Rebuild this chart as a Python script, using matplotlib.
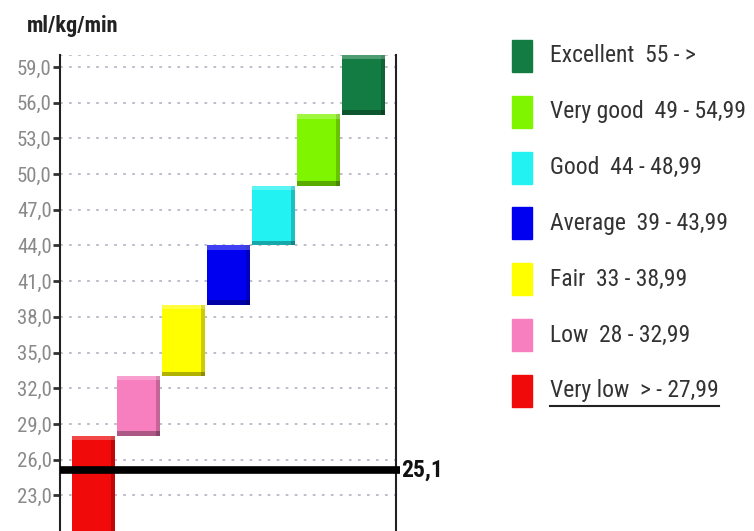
import matplotlib
matplotlib.use("Agg")
import matplotlib.pyplot as plt
import numpy as np

categories = ["Very low  > - 27,99", "Low  28 - 32,99", "Fair  33 - 38,99",
              "Average  39 - 43,99", "Good  44 - 48,99", "Very good  49 - 54,99",
              "Excellent  55 - >"]
lower = [20, 28, 33, 39, 44, 49, 55]
upper = [28, 33, 39, 44, 49, 55, 60]
colors = ["#f00a0a", "#f77fbf", "#ffff00", "#0000f0", "#22f2f2", "#80f500", "#137c43"]
yticks = [23, 26, 29, 32, 35, 38, 41, 44, 47, 50, 53, 56, 59]
ytick_labels = ["23,0", "26,0", "29,0", "32,0", "35,0", "38,0", "41,0", "44,0",
                "47,0", "50,0", "53,0", "56,0", "59,0"]
result = 25.1
result_label = "25,1"
unit = "ml/kg/min"

FONT = ["Roboto Condensed", "Liberation Sans", "DejaVu Sans"]
plt.rcParams["font.family"] = FONT

fig = plt.figure(figsize=(7.54, 5.31), dpi=100)
ax = fig.add_axes([60/754, 0.0, (396-60)/754, 1 - 55/531])

YMIN, YMAX = 20, 60
x = np.arange(len(lower))
heights = [u - l for u, l in zip(upper, lower)]
W = 0.95
ax.bar(x, heights, bottom=lower, width=W, color=colors, edgecolor="none",
       linewidth=0, zorder=3)
# bevel: dark bottom band and right band, light top band
shade_idx = [i for i in range(len(x)) if lower[i] > YMIN]
ax.bar(x[shade_idx], [0.4] * len(shade_idx), bottom=[lower[i] for i in shade_idx],
       width=W, color="black", alpha=0.3, linewidth=0, zorder=3.2)
ax.bar(x + W / 2 - 0.04, heights, bottom=lower, width=0.08, color="black",
       alpha=0.2, linewidth=0, zorder=3.2)
ax.bar(x, [0.35] * len(x), bottom=[u - 0.35 for u in upper], width=W, color="white",
       alpha=0.25, linewidth=0, zorder=3.2)

ax.set_xlim(-0.74, 6.72)
ax.set_ylim(YMIN, YMAX)
ax.set_yticks(yticks)
ax.set_yticklabels(ytick_labels, color="#8a8a8a", fontsize=15)
ax.set_xticks([])
for yv in yticks + [YMAX]:
    ax.axhline(yv, color="#b8b8c8", linestyle=(0, (1.5, 3.5)), linewidth=1.3, zorder=1)
ax.tick_params(axis="y", length=5, width=2, color="#333333", pad=1)
ax.spines["top"].set_visible(False)
ax.spines["bottom"].set_visible(False)
for s in ("left", "right"):
    ax.spines[s].set_linewidth(1.5)
    ax.spines[s].set_color("#222222")

ax.plot([-0.74, 6.8], [result, result], color="black", linewidth=5.5,
        solid_capstyle="butt", zorder=4, clip_on=False)
ax.text(6.83, result, result_label, fontsize=17, fontweight="bold",
        va="center", ha="left", color="#111111")

fig.text(27/754, 1 - 26/531, unit, fontsize=16, fontweight="bold",
         color="#222222", va="center", ha="left")

# legend
y0, dy = 56, 55.8
renderer = fig.canvas.get_renderer()
for i in range(len(categories)):
    idx = len(categories) - 1 - i
    yc = y0 + i * dy
    fig.patches.append(plt.Rectangle((512/754, 1 - (yc + 16)/531), 20/754, 32/531,
                                     transform=fig.transFigure, color=colors[idx]))
    t = fig.text(550/754, 1 - yc/531, categories[idx], fontsize=17, color="#333333",
                 va="center", ha="left")
    if idx == 0:
        bb = t.get_window_extent(renderer)
        fig.add_artist(plt.Line2D([bb.x0 / 754, bb.x1 / 754], [1 - (yc + 15)/531] * 2,
                                  transform=fig.transFigure, color="#222222", linewidth=1.5))

fig.savefig("out.png", dpi=100)
